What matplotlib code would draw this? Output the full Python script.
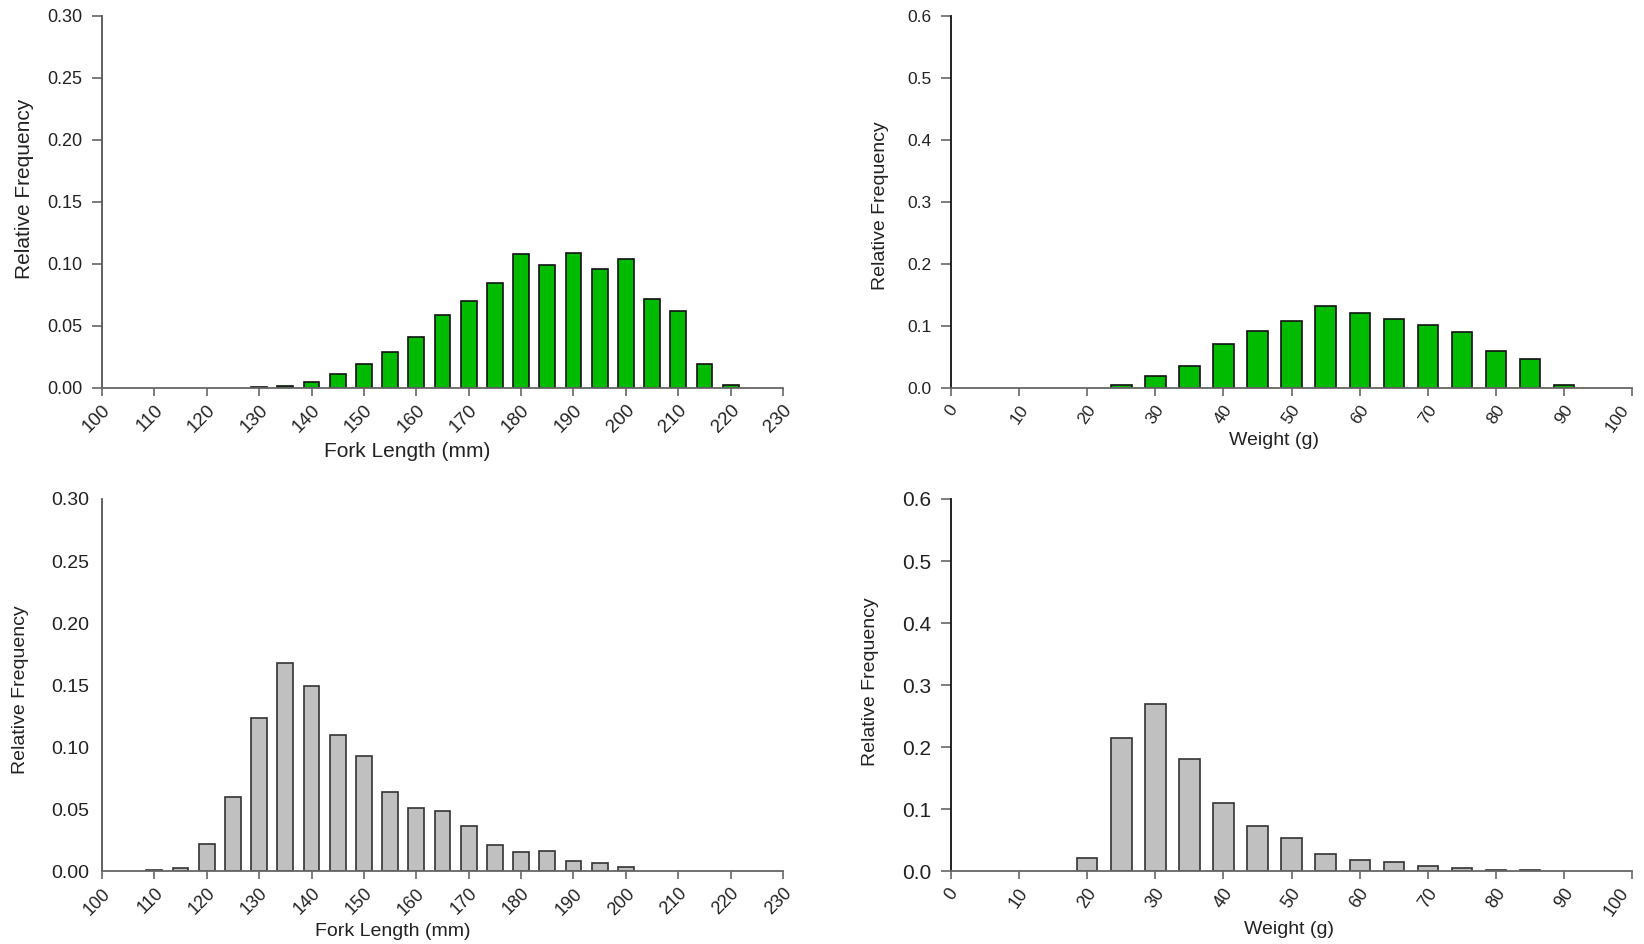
import matplotlib
matplotlib.use('Agg')
import matplotlib.pyplot as plt
import numpy as np

plt.rcParams['font.family'] = ['Liberation Sans', 'DejaVu Sans']

# fork length histogram (bin centres in mm, relative frequency)
fl_top_bins = [130, 135, 140, 145, 150, 155, 160, 165, 170, 175,
               180, 185, 190, 195, 200, 205, 210, 215, 220]
fl_top_freq = [0.001, 0.0015, 0.005, 0.0113, 0.0194, 0.029, 0.0414, 0.0586, 0.0702, 0.0847,
               0.1083, 0.0995, 0.1089, 0.0962, 0.1043, 0.0718, 0.0624, 0.0194, 0.0027]

fl_bot_bins = [110, 115, 120, 125, 130, 135, 140, 145, 150, 155,
               160, 165, 170, 175, 180, 185, 190, 195, 200]
fl_bot_freq = [0.0008, 0.0024, 0.0219, 0.0595, 0.1238, 0.1678, 0.1495, 0.1095, 0.0927, 0.0641,
               0.0505, 0.0486, 0.0362, 0.0211, 0.0154, 0.0165, 0.0078, 0.0068, 0.003]

# weight histogram (bin centres in g)
wt_top_bins = [25, 30, 35, 40, 45, 50, 55, 60, 65, 70, 75, 80, 85, 90]
wt_top_freq = [0.0043, 0.0187, 0.0358, 0.0706, 0.0914, 0.1075, 0.1321, 0.1203,
               0.1118, 0.1016, 0.0904, 0.0604, 0.0465, 0.0043]

wt_bot_bins = [20, 25, 30, 35, 40, 45, 50, 55, 60, 65, 70, 75, 80, 85]
wt_bot_freq = [0.0204, 0.214, 0.269, 0.181, 0.110, 0.0724, 0.0536, 0.0273,
               0.0177, 0.0145, 0.0086, 0.0048, 0.001, 0.001]

fl_ticks = list(range(100, 231, 10))
wt_ticks = list(range(0, 101, 10))
fl_yticks = [0.0, 0.05, 0.10, 0.15, 0.20, 0.25, 0.30]
wt_yticks = [0.0, 0.1, 0.2, 0.3, 0.4, 0.5, 0.6]

GREEN = '#00BB00'
GREY = '#C0C0C0'

fig = plt.figure(figsize=(16.44, 9.44), dpi=100)

def panel(rect, bins, freq, color, edge, xticks, yticks, yfmt, xlabel,
          ytick_size, xtick_size, xrot, ylab_pos, xlab_pos, ylab_size, xlab_size,
          yspine='#555555', ytick_len=7, ypad=7, centred=False):
    ax = fig.add_axes(rect)
    ax.bar(bins, freq, width=3, color=color, edgecolor=edge, linewidth=1.2)
    ax.set_xlim(xticks[0], xticks[-1])
    ax.set_ylim(yticks[0], yticks[-1])
    ax.set_xticks(xticks)
    if centred:
        labels = ax.set_xticklabels([str(t) for t in xticks], rotation=xrot, ha='center',
                                    fontsize=xtick_size, color='#222222')
        labels[-1].set_ha('right')  # keep the last one inside the figure
    else:
        ax.set_xticklabels([str(t) for t in xticks], rotation=xrot, ha='right',
                           rotation_mode='anchor', fontsize=xtick_size, color='#222222')
    ax.set_yticks(yticks)
    ax.set_yticklabels([yfmt.format(t) for t in yticks], fontsize=ytick_size, color='#222222')
    for s in ['top', 'right']:
        ax.spines[s].set_visible(False)
    ax.spines['left'].set_color(yspine)
    ax.spines['bottom'].set_color('#666666')
    ax.spines['left'].set_linewidth(1.3)
    ax.spines['bottom'].set_linewidth(1.3)
    ax.tick_params(axis='y', direction='out', length=ytick_len, width=1.2, color='#666666', pad=ypad)
    ax.tick_params(axis='x', direction='out', length=6, width=1.2, color='#666666', pad=4)
    ax.set_ylabel('Relative Frequency', fontsize=ylab_size, color='#222222')
    ax.yaxis.set_label_coords(*ylab_pos)
    ax.yaxis.label.set_va('center')
    ax.set_xlabel(xlabel, fontsize=xlab_size, color='#222222')
    ax.xaxis.set_label_coords(*xlab_pos)
    ax.xaxis.label.set_va('center')
    return ax

w, h = 0.4143, 0.3941
panel([0.0620, 0.5890, w, h], fl_top_bins, fl_top_freq, GREEN, '#111111',
      fl_ticks, fl_yticks, '{:.2f}', 'Fork Length (mm)',
      13, 13.5, 45, (-0.113, 0.535), (0.448, -0.172), 15, 15)
panel([0.5785, 0.5890, w, h], wt_top_bins, wt_top_freq, GREEN, '#111111',
      wt_ticks, wt_yticks, '{:.1f}', 'Weight (g)',
      12.5, 12.5, 55, (-0.104, 0.49), (0.474, -0.14), 14, 14, yspine='#111111',
      centred=True)
panel([0.0620, 0.0773, w, h], fl_bot_bins, fl_bot_freq, GREY, '#333333',
      fl_ticks, fl_yticks, '{:.2f}', 'Fork Length (mm)',
      14, 13, 45, (-0.119, 0.487), (0.427, -0.163), 14, 14, ytick_len=0, ypad=9)
panel([0.5785, 0.0773, w, h], wt_bot_bins, wt_bot_freq, GREY, '#333333',
      wt_ticks, wt_yticks, '{:.1f}', 'Weight (g)',
      15, 13, 55, (-0.119, 0.508), (0.496, -0.158), 14, 14, yspine='#111111',
      centred=True)

fig.savefig('out.png', dpi=100)
